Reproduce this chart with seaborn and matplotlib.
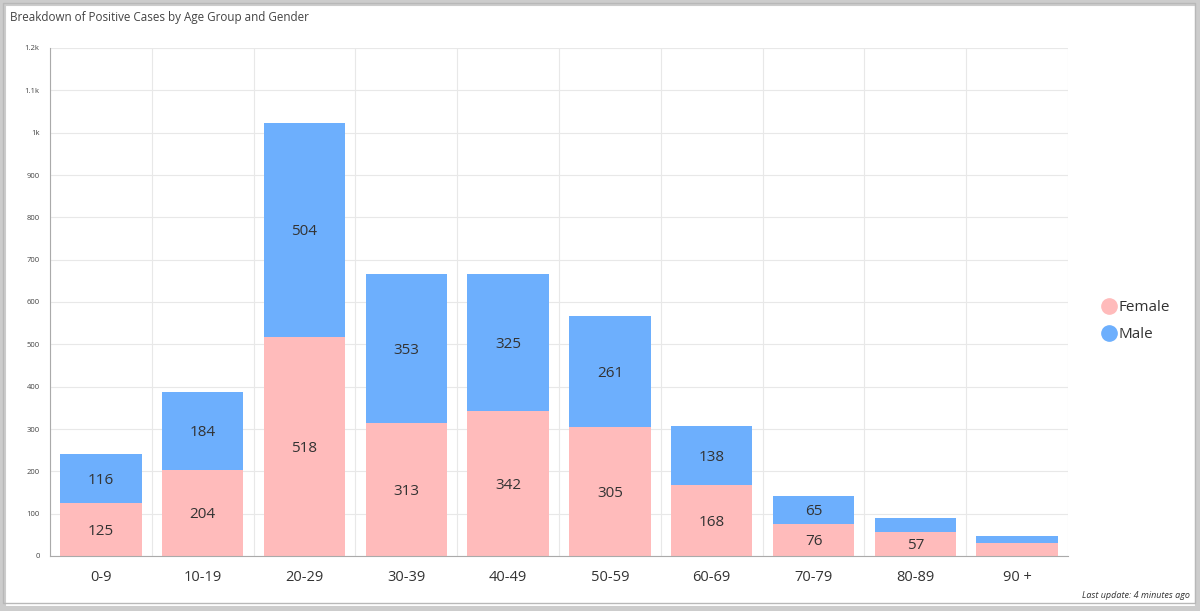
import numpy as np
import pandas as pd
import matplotlib.pyplot as plt
import seaborn as sns
from matplotlib.lines import Line2D
from matplotlib.patches import Rectangle
from matplotlib.ticker import FixedLocator

age_groups = ["0-9", "10-19", "20-29", "30-39", "40-49", "50-59", "60-69", "70-79", "80-89", "90 +"]
female = [125, 204, 518, 313, 342, 305, 168, 76, 57, 30]
male = [116, 184, 504, 353, 325, 261, 138, 65, 33, 17]

df = pd.DataFrame({"age": age_groups, "Female": female, "Male": male})
df["total"] = df["Female"] + df["Male"]

pink = "#ffbbbb"
blue = "#6daffd"

sns.set_style("white")
plt.rcParams["font.family"] = ["Open Sans", "DejaVu Sans"]

fig = plt.figure(figsize=(12, 6.11), dpi=100)
ax = fig.add_axes([50 / 1200, 55 / 611, 1018 / 1200, 508 / 611])

# total (male on top) then female at the bottom
sns.barplot(data=df, x="age", y="total", color=blue, width=0.8, saturation=1, linewidth=0, ax=ax)
sns.barplot(data=df, x="age", y="Female", color=pink, width=0.8, saturation=1, linewidth=0, ax=ax)

# value labels in the middle of each segment (skip segments too small)
for i in range(len(age_groups)):
    if female[i] >= 50:
        ax.text(i, female[i] / 2 - 4, str(female[i]), ha="center", va="center", fontsize=11, color="#333333")
    if male[i] >= 50:
        ax.text(i, female[i] + male[i] / 2 - 4, str(male[i]), ha="center", va="center", fontsize=11, color="#333333")

ax.set_ylim(0, 1200)
ax.set_xlim(-0.5, len(age_groups) - 0.5)
yt = np.arange(0, 1300, 100)
ax.set_yticks(yt)
ax.set_yticklabels(["0", "100", "200", "300", "400", "500", "600", "700", "800", "900", "1k", "1.1k", "1.2k"])
ax.tick_params(axis="y", labelsize=5.5, labelcolor="#444444", length=4, color="#aaaaaa", width=0.8)
ax.tick_params(axis="x", labelsize=10.5, labelcolor="#333333", length=4, color="#aaaaaa", width=0.8, pad=6)
ax.xaxis.set_minor_locator(FixedLocator(np.arange(-0.5, len(age_groups), 1)))
ax.grid(axis="y", which="major", color="#e8e8e8", linewidth=0.8)
ax.grid(axis="x", which="minor", color="#e8e8e8", linewidth=0.8)
ax.tick_params(axis="x", which="minor", length=0)
ax.set_axisbelow(True)
ax.set_xlabel("")
ax.set_ylabel("")
for s in ["top", "right"]:
    ax.spines[s].set_visible(False)
ax.spines["left"].set_color("#aaaaaa")
ax.spines["bottom"].set_color("#aaaaaa")
ax.spines["left"].set_linewidth(0.8)
ax.spines["bottom"].set_linewidth(0.8)

handles = [
    Line2D([], [], marker="o", linestyle="", markersize=11, markerfacecolor=pink, markeredgecolor=pink, label="Female"),
    Line2D([], [], marker="o", linestyle="", markersize=11, markerfacecolor=blue, markeredgecolor=blue, label="Male"),
]
fig.legend(handles=handles, loc="center left", bbox_to_anchor=(1080 / 1200, 1 - 321 / 611),
           frameon=False, fontsize=11, handletextpad=-0.35, labelspacing=0.8, labelcolor="#333333")

fig.text(10 / 1200, 1 - 18 / 611, "Breakdown of Positive Cases by Age Group and Gender",
         fontsize=8.4, color="#444444", va="center", ha="left")
fig.text(1190 / 1200, 1 - 596 / 611, "Last update: 4 minutes ago", fontsize=6.5, style="italic",
         color="#333333", ha="right", va="center")

# grey frame around the panel
fig.patches.append(Rectangle((0, 0), 1, 1, transform=fig.transFigure, fill=False,
                             edgecolor="#cccccc", linewidth=8))
fig.patches.append(Rectangle((3 / 1200, 8 / 611), 1192 / 1200, 600 / 611, transform=fig.transFigure,
                             fill=False, edgecolor="#b8b8b8", linewidth=1))

fig.savefig("out.png", dpi=100)
